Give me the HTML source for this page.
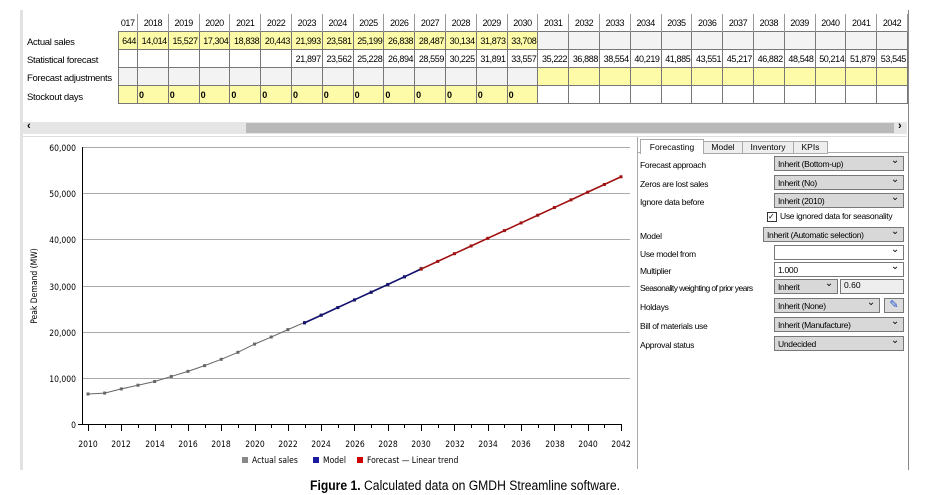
<!DOCTYPE html>
<html><head><meta charset="utf-8">
<style>
body{margin:0;width:930px;height:495px;background:#fff;font-family:"Liberation Sans",sans-serif;font-size:10px;color:#000;position:relative;overflow:hidden}
.abs{position:absolute}
table{border-collapse:collapse;position:absolute;left:118px;top:14px;table-layout:fixed;width:789px}
td{border:1px solid #777;height:17px;padding:0 1px;text-align:right;font-size:9px;letter-spacing:-0.4px;white-space:nowrap;overflow:hidden}
td.h{border:none;border-right:1px solid #999;text-align:center;background:#fff}
.y{background:#fdfba8}.g{background:#f3f3f3}.w{background:#fff}
td.z{text-align:left;font-weight:bold}
.lbl{position:absolute;left:27px;font-size:9.5px;letter-spacing:-0.3px}
.row{position:absolute;left:640px;font-size:8.5px;letter-spacing:-0.3px;white-space:nowrap}
.dd{position:absolute;height:15px;background:#d8d8d8;border:1px solid #777;font-size:8.5px;letter-spacing:-0.3px;line-height:14px;padding-left:3px;box-sizing:border-box;white-space:nowrap;overflow:hidden}
.dd:after{content:"⌄";position:absolute;right:4px;top:-3px;font-size:10px}
</style></head><body>
<div class="abs" style="left:20px;top:10px;width:3px;height:460px;background:#e2e2e2"></div>
<div class="lbl" style="top:37px">Actual sales</div>
<div class="lbl" style="top:55px">Statistical forecast</div>
<div class="lbl" style="top:73px">Forecast adjustments</div>
<div class="lbl" style="top:92px">Stockout days</div>
<table id="t"></table>
<div class="abs" style="left:23px;top:122px;width:884px;height:12px;background:#e6e6e6"></div>
<div class="abs" style="left:246px;top:123px;width:648px;height:10px;background:#b9b9b9"></div>
<div class="abs" style="left:27px;top:120px;font-size:11px;font-weight:bold">‹</div>
<div class="abs" style="left:898px;top:120px;font-size:11px;font-weight:bold">›</div>
<div class="abs" style="left:23px;top:136px;width:884px;height:1px;background:#ddd"></div>
<div class="abs" style="left:908px;top:10px;width:1px;height:460px;background:#888"></div>
<div class="abs" style="left:637px;top:137px;width:1px;height:332px;background:#aaa"></div>
<svg class="abs" style="left:0;top:0" width="930" height="495" id="s">
<g font-family="DejaVu Sans Condensed, DejaVu Sans, sans-serif" font-size="8.5" fill="#000">
<g stroke="#aaa" stroke-width="1">
<line x1="82" x2="630" y1="147.5" y2="147.5"/><line x1="82" x2="630" y1="193.5" y2="193.5"/><line x1="82" x2="630" y1="239.5" y2="239.5"/><line x1="82" x2="630" y1="286.5" y2="286.5"/><line x1="82" x2="630" y1="332.5" y2="332.5"/><line x1="82" x2="630" y1="378.5" y2="378.5"/></g>
<line x1="82.5" x2="82.5" y1="147" y2="425" stroke="#000"/>
<line x1="78" x2="622" y1="424.5" y2="424.5" stroke="#000"/>
<g text-anchor="end"><text x="76" y="151">60,000</text><text x="76" y="197">50,000</text><text x="76" y="243">40,000</text><text x="76" y="290">30,000</text><text x="76" y="336">20,000</text><text x="76" y="382">10,000</text><text x="76" y="428">0</text></g>
<g id="ticks" stroke="#000"></g>
<g text-anchor="middle"><text x="88" y="447">2010</text><text x="121" y="447">2012</text><text x="155" y="447">2014</text><text x="188" y="447">2016</text><text x="221" y="447">2018</text><text x="255" y="447">2020</text><text x="288" y="447">2022</text><text x="321" y="447">2024</text><text x="355" y="447">2026</text><text x="388" y="447">2028</text><text x="421" y="447">2030</text><text x="455" y="447">2032</text><text x="488" y="447">2034</text><text x="521" y="447">2036</text><text x="555" y="447">2038</text><text x="588" y="447">2040</text><text x="621" y="447">2042</text></g>
<text transform="translate(37,286) rotate(-90)" text-anchor="middle">Peak Demand (MW)</text>
<rect x="242" y="457" width="6" height="6" fill="#888"/><text x="252" y="463">Actual sales</text>
<rect x="313" y="457" width="6" height="6" fill="#1a1aa0"/><text x="323" y="463">Model</text>
<rect x="357" y="457" width="6" height="6" fill="#c00"/><text x="367" y="463">Forecast — Linear trend</text>
</g>
<g id="lines"></g>
</svg>
<div class="abs" style="left:0;top:478px;width:930px;text-align:center;font-size:13.5px;transform:scaleX(0.9)"><b>Figure 1.</b> Calculated data on GMDH Streamline software.</div>
<div class="abs" style="left:638px;top:152px;width:270px;height:1px;background:#aaa"></div>
<div class="abs" style="left:640px;top:139px;width:62px;height:14px;background:#fff;border:1px solid #aaa;border-bottom:none;font-size:8.5px;text-align:center;line-height:14px">Forecasting</div>
<div class="abs" style="left:703px;top:141px;width:38px;height:11px;background:#eee;border:1px solid #aaa;font-size:8.5px;text-align:center;line-height:11px">Model</div>
<div class="abs" style="left:742px;top:141px;width:50px;height:11px;background:#eee;border:1px solid #aaa;font-size:8.5px;text-align:center;line-height:11px">Inventory</div>
<div class="abs" style="left:793px;top:141px;width:33px;height:11px;background:#eee;border:1px solid #aaa;font-size:8.5px;text-align:center;line-height:11px">KPIs</div>
<div class="row" style="top:160px">Forecast approach</div><div class="dd" style="left:774px;top:156px;width:130px">Inherit (Bottom-up)</div>
<div class="row" style="top:179px">Zeros are lost sales</div><div class="dd" style="left:774px;top:175px;width:130px">Inherit (No)</div>
<div class="row" style="top:197px">Ignore data before</div><div class="dd" style="left:774px;top:193px;width:130px">Inherit (2010)</div>
<div class="abs" style="left:767px;top:212px;width:8px;height:8px;border:1px solid #333;font-size:8px;line-height:8px">✓</div>
<div class="abs" style="left:780px;top:211px;font-size:8.5px;letter-spacing:-0.3px">Use ignored data for seasonality</div>
<div class="row" style="top:231px">Model</div><div class="dd" style="left:763px;top:227px;width:141px">Inherit (Automatic selection)</div>
<div class="row" style="top:249px">Use model from</div><div class="dd" style="left:774px;top:245px;width:130px;background:#fff"></div>
<div class="row" style="top:266px">Multiplier</div><div class="dd" style="left:774px;top:262px;width:130px;background:#fff">1.000</div>
<div class="row" style="top:283px;letter-spacing:-0.6px">Seasonality weighting of prior years</div><div class="dd" style="left:774px;top:279px;width:64px">Inherit</div><div class="abs" style="left:840px;top:279px;width:64px;height:15px;background:#eee;border:1px solid #777;box-sizing:border-box;font-size:8.5px;padding-left:3px">0.60</div>
<div class="row" style="top:302px">Holdays</div><div class="dd" style="left:774px;top:298px;width:106px">Inherit (None)</div><div class="abs" style="left:884px;top:298px;width:20px;height:15px;background:#ddd;border:1px solid #777;box-sizing:border-box;color:#2255cc;text-align:center;font-size:11px;line-height:13px">✎</div>
<div class="row" style="top:321px">Bill of materials use</div><div class="dd" style="left:774px;top:317px;width:130px">Inherit (Manufacture)</div>
<div class="row" style="top:340px">Approval status</div><div class="dd" style="left:774px;top:336px;width:130px">Undecided</div>
<script>
var act=[6500,6700,7600,8400,9200,10300,11400,12644,14014,15527,17304,18838,20443,21993,23581,25199,26838,28487,30134,31873,33708];
var st=[21897,23562,25228,26894,28559,30225,31891,33557,35222,36888,38554,40219,41885,43551,45217,46882,48548,50214,51879,53545];
function X(y){return 88+(y-2010)*16.656}function Y(v){return 424-v*0.004617}
var L=document.getElementById('lines'),ns='http://www.w3.org/2000/svg';
function pl(pts,c,w){var p=document.createElementNS(ns,'polyline');p.setAttribute('points',pts.map(a=>a.join(',')).join(' '));p.setAttribute('fill','none');p.setAttribute('stroke',c);p.setAttribute('stroke-width',w);L.appendChild(p);pts.forEach(a=>{var r=document.createElementNS(ns,'rect');r.setAttribute('x',a[0]-1.5);r.setAttribute('y',a[1]-1.5);r.setAttribute('width',3);r.setAttribute('height',3);r.setAttribute('fill',c);L.appendChild(r)})}
pl(act.map((v,i)=>[X(2010+i),Y(v)]),'#666',1);
pl(st.slice(0,8).map((v,i)=>[X(2023+i),Y(v)]),'#141470',1.6);
pl(st.slice(7).map((v,i)=>[X(2030+i),Y(v)]),'#a01010',1.6);
var T=document.getElementById('ticks');for(var y=2010;y<=2042;y++){var l=document.createElementNS(ns,'line');var x=Math.round(X(y))+.5;l.setAttribute('x1',x);l.setAttribute('x2',x);l.setAttribute('y1',424);l.setAttribute('y2',y%2?428:431);T.appendChild(l)}
var t=document.getElementById('t'),h='<colgroup><col style="width:19px">';for(var i=0;i<25;i++)h+='<col style="width:30.8px">';h+='</colgroup>';
var yrs=['017'];for(var y=2018;y<=2042;y++)yrs.push(y);
h+='<tr>'+yrs.map(y=>'<td class="h">'+y+'</td>').join('')+'</tr>';
var a=act.slice(7).map(v=>v.toLocaleString('en-US'));a[0]='644';
h+='<tr>'+yrs.map((y,i)=>i<14?'<td class="y">'+a[i]+'</td>':'<td class="g"></td>').join('')+'</tr>';
h+='<tr>'+yrs.map((y,i)=>i<6?'<td class="w"></td>':'<td class="w">'+st[i-6].toLocaleString('en-US')+'</td>').join('')+'</tr>';
h+='<tr>'+yrs.map((y,i)=>i<14?'<td class="g"></td>':'<td class="y"></td>').join('')+'</tr>';
h+='<tr>'+yrs.map((y,i)=>i<14?'<td class="y z">'+(i?'0':'')+'</td>':'<td class="w"></td>').join('')+'</tr>';
t.innerHTML=h;
</script>
</body></html>
